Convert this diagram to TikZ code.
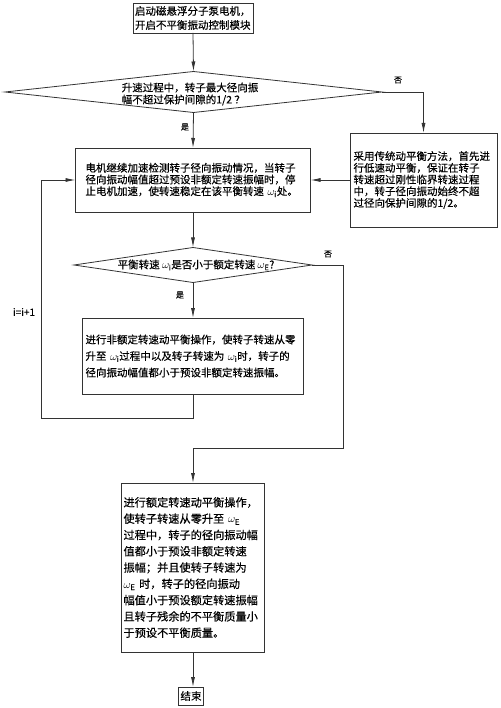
\documentclass[tikz,border=0pt]{standalone}
\usepackage{fontspec}
\setmainfont{Noto Sans CJK SC}[FakeBold=0.4]
\usetikzlibrary{shapes.geometric,arrows.meta}
\definecolor{lc}{HTML}{333333}
\begin{document}
\begin{tikzpicture}[x=1pt,y=-1pt,
  every node/.style={inner sep=0pt, outer sep=0pt},
  box/.style={draw=lc, line width=0.8pt, rectangle, align=left, font=\fontsize{10.5}{11.7}\selectfont},
  dia/.style={draw=lc, line width=0.8pt, diamond, inner sep=0pt},
  conn/.style={draw=lc, line width=0.8pt},
  arr/.style={conn, -{Latex[length=10pt,width=4pt]}},
  lab/.style={font=\fontsize{8}{9}\selectfont},
  txt/.style={font=\fontsize{10.5}{12}\selectfont}]
\useasboundingbox (0,0) rectangle (500,708);

% nodes
\node[box, text width=116pt, inner xsep=2pt, minimum height=30pt, font=\fontsize{10.5}{14}\selectfont] (start) at (193,18)
  {启动磁悬浮分子泵电机，\\开启不平衡振动控制模块};

\node[dia, minimum width=377pt, minimum height=41pt] (d1) at (193.5,92) {};
\node[txt, align=left] (d1t) at (190,94) {升速过程中，转子最大径向振\\幅不超过保护间隙的1/2 ？};

\node[box, text width=215pt, inner xsep=10pt, minimum height=64pt] (b2) at (193,180)
  {电机继续加速检测转子径向振动情况，当转子\\径向振动幅值超过预设非额定转速振幅时，停\\止电机加速，使转速稳定在该平衡转速 $\omega_{\mathrm{i}}$处。};

\node[box, text width=140pt, inner xsep=3.5pt, minimum height=94pt] (rb) at (423.5,180)
  {采用传统动平衡方法，首先进\\行低速动平衡，保证在转子\\转速超过刚性临界转速过程\\中，转子径向振动始终不超\\过径向保护间隙的1/2。\\[4pt]};

\node[dia, minimum width=238pt, minimum height=35pt] (d2) at (193,265) {};
\node[txt] (d2t) at (196,265) {平衡转速 $\omega_{\mathrm{i}}$是否小于额定转速 $\omega_{\mathrm{E}}$?};

\node[box, text width=215pt, inner xsep=3pt, minimum height=76pt, font=\fontsize{10.5}{16.5}\selectfont] (b3) at (193,356)
  {进行非额定转速动平衡操作，使转子转速从零\\升至 $\omega_{\mathrm{i}}$过程中以及转子转速为 $\omega_{\mathrm{i}}$时，转子的\\径向振动幅值都小于预设非额定转速振幅。};

\node[box, text width=139pt, inner xsep=2pt, minimum height=169pt, font=\fontsize{11.2}{16.3}\selectfont] (b4) at (193,567.5)
  {进行额定转速动平衡操作，\\使转子转速从零升至 $\omega_{\mathrm{E}}$\\过程中，转子的径向振动幅\\值都小于预设非额定转速\\振幅；并且使转子转速为\\$\omega_{\mathrm{E}}$ 时，转子的径向振动\\幅值小于预设额定转速振幅\\且转子残余的不平衡质量小\\于预设不平衡质量。};

\node[box, inner xsep=2pt, minimum height=18pt] (end) at (191,696) {结束};

% labels
\node[lab] (no1) at (398,80) {否};
\node[lab] (yes1) at (185,127) {是};
\node[lab] (no2) at (328,254) {否};
\node[lab] (yes2) at (180,295) {是};
\node[font=\fontsize{10}{11}\selectfont] (il) at (24,312) {i=i+1};

% helper coordinates
\coordinate (k1) at (343,448);
\coordinate (k2) at (193,448);
\coordinate (k3) at (193,418);
\coordinate (k4) at (41,418);

% connectors
\draw[arr] (start.south) -- (d1.north);
\draw[arr] (d1.east) -| (rb.north);
\draw[arr] (d1.south) -- (b2.north);
\draw[arr] (rb.west) -- (b2.east);
\draw[arr] (b2.south) -- (d2.north);
\draw[arr] (d2.south) -- (b3.north);
\draw[arr] (d2.east) -| (k1) -- (k2) -- (k2 |- b4.north);
\draw[arr] (b3.south) -- (k3) -- (k4) |- (b2.west);
\draw[arr] (b4.south) -- (b4.south |- end.north);
\end{tikzpicture}
\end{document}
